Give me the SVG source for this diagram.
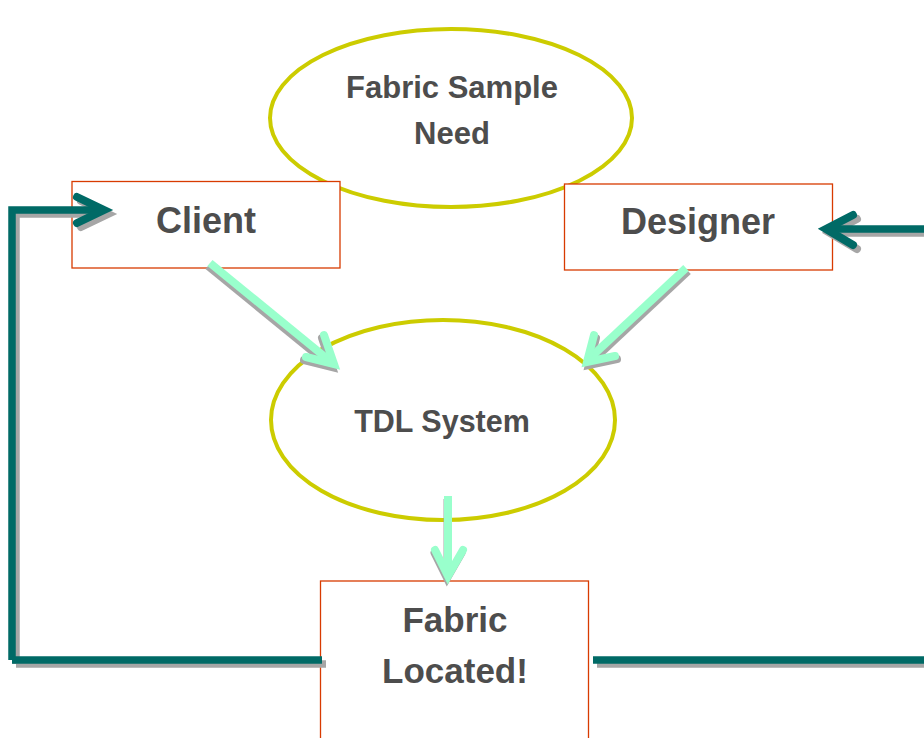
<svg xmlns="http://www.w3.org/2000/svg" xmlns:xlink="http://www.w3.org/1999/xlink" width="924" height="738" viewBox="0 0 924 738">
<style>
.ell{fill:#fff;stroke:#cccc00;stroke-width:4}
.box{fill:#fff;stroke:#d83b01;stroke-width:1.3}
.lbl{font-family:"Liberation Sans",Arial,sans-serif;font-weight:bold;fill:#4d4d4d;text-anchor:middle}
.teal{fill:none;stroke:#006a66;stroke-width:7.5;stroke-linejoin:miter}
.tealhead{fill:none;stroke:#006a66;stroke-width:8;stroke-linecap:round;stroke-linejoin:miter}
.mint{fill:none;stroke:#99ffcc;stroke-width:8;stroke-linejoin:miter}
.minthead{fill:none;stroke:#99ffcc;stroke-width:8;stroke-linecap:round;stroke-linejoin:miter}
.sh{fill:none;stroke:#a6a6a6}
</style>
<defs>
<path id="cL" d="M12,660 L12,210 L98,210"/>
<path id="cLh" d="M77,197 L104,210 L77,223"/>
<path id="cB" d="M12,660 L322,660"/>
<path id="cR" d="M593,660 L924,660"/>
<path id="cD" d="M924,229 L830,229"/>
<path id="cDh" d="M853,215 L826,229 L853,245"/>
<path id="m1" d="M210,263 L330,361"/>
<path id="m1h" d="M324,335 L334,364 L306,357"/>
<path id="m2" d="M686,268 L590,358"/>
<path id="m2h" d="M594,335 L587,362 L615,356"/>
<path id="m3" d="M448,496 L448,574"/>
<path id="m3h" d="M435,550 L448,576 L463,550"/>
</defs>

<g id="node-need">
<ellipse class="ell" cx="451" cy="118" rx="181" ry="89"/>
<text class="lbl" x="452" y="98" font-size="31">Fabric Sample</text>
<text class="lbl" x="452" y="144" font-size="31">Need</text>
</g>

<g id="node-client">
<rect class="box" x="72" y="181.5" width="268" height="86.5"/>
<text class="lbl" x="206" y="233" font-size="36">Client</text>
</g>

<g id="node-designer">
<rect class="box" x="564.5" y="184" width="268" height="86"/>
<text class="lbl" x="698" y="234" font-size="36">Designer</text>
</g>

<g id="node-tdl">
<ellipse class="ell" cx="443" cy="420" rx="172" ry="100"/>
<text class="lbl" x="442" y="432" font-size="30.5">TDL System</text>
</g>

<g id="node-located">
<rect class="box" x="320.5" y="581" width="268" height="170"/>
<text class="lbl" x="455" y="632" font-size="35">Fabric</text>
<text class="lbl" x="455" y="683" font-size="35">Located!</text>
</g>

<g id="connectors">
<g transform="translate(4,4)" class="sh">
<use xlink:href="#cL" stroke-width="7.5"/>
<use xlink:href="#cLh" stroke-width="8" stroke-linecap="round"/>
<use xlink:href="#cB" stroke-width="7.5"/>
<use xlink:href="#cR" stroke-width="7.5"/>
<use xlink:href="#cD" stroke-width="7.5"/>
<use xlink:href="#cDh" stroke-width="8" stroke-linecap="round"/>
</g>
<g transform="translate(-2,3)" class="sh">
<use xlink:href="#m1" stroke-width="8"/>
<use xlink:href="#m1h" stroke-width="8" stroke-linecap="round"/>
</g>
<g transform="translate(2,3)" class="sh">
<use xlink:href="#m2" stroke-width="8"/>
<use xlink:href="#m2h" stroke-width="8" stroke-linecap="round"/>
</g>
<g transform="translate(-1,3)" class="sh">
<use xlink:href="#m3" stroke-width="7"/>
<use xlink:href="#m3h" stroke-width="7" stroke-linecap="round"/>
</g>
<use xlink:href="#cL" class="teal"/>
<use xlink:href="#cLh" class="tealhead"/>
<use xlink:href="#cB" class="teal"/>
<use xlink:href="#cR" class="teal"/>
<use xlink:href="#cD" class="teal"/>
<use xlink:href="#cDh" class="tealhead"/>
<use xlink:href="#m1" class="mint"/>
<use xlink:href="#m1h" class="minthead"/>
<use xlink:href="#m2" class="mint"/>
<use xlink:href="#m2h" class="minthead"/>
<use xlink:href="#m3" class="mint" stroke-width="7"/>
<use xlink:href="#m3h" class="minthead" stroke-width="7"/>
</g>
</svg>
